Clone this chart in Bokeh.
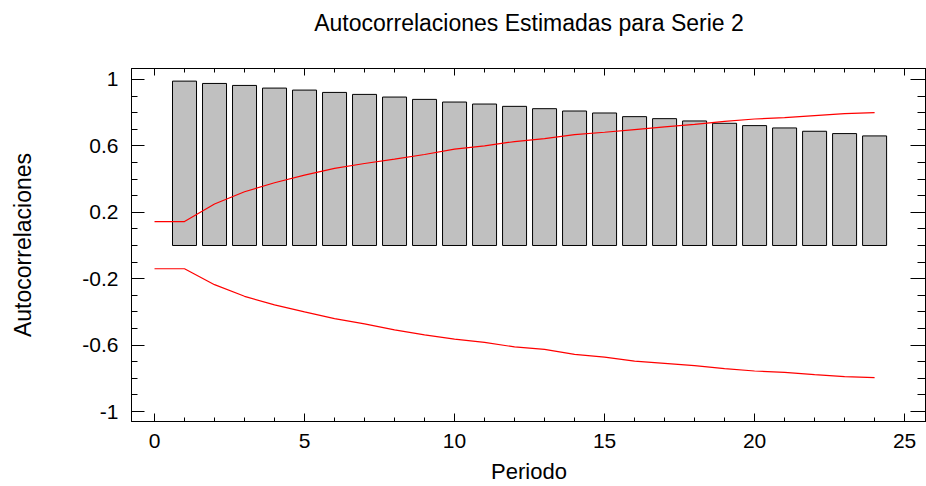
from bokeh.plotting import figure
from bokeh.models import (LinearAxis, Range1d, FixedTicker, SingleIntervalTicker,
                          ColumnDataSource, Title, CustomJSTickFormatter)
from bokeh.embed import file_html
from bokeh.resources import INLINE

# ---- data ----
lags = list(range(1, 25))
acf = [0.990, 0.976, 0.964, 0.948, 0.936, 0.922, 0.910, 0.894, 0.880, 0.864,
       0.852, 0.838, 0.824, 0.810, 0.798, 0.776, 0.764, 0.750, 0.736, 0.722,
       0.708, 0.688, 0.674, 0.660]

limit_lags = list(range(0, 25))
upper = [0.144, 0.144, 0.250, 0.324, 0.378, 0.424, 0.464, 0.494, 0.520, 0.548,
         0.580, 0.600, 0.626, 0.644, 0.668, 0.682, 0.698, 0.714, 0.730, 0.748,
         0.762, 0.770, 0.782, 0.794, 0.800]
lower = [-0.140, -0.140, -0.236, -0.306, -0.358, -0.400, -0.440, -0.472, -0.508,
         -0.538, -0.564, -0.584, -0.611, -0.626, -0.656, -0.672, -0.696, -0.710,
         -0.724, -0.742, -0.756, -0.764, -0.778, -0.790, -0.796]

y_ticks = [-1.0, -0.6, -0.2, 0.2, 0.6, 1.0]
y_tick_labels = ["-1", "-0.6", "-0.2", "0.2", "0.6", "1"]
y_minor = [-1.0, -0.9, -0.8, -0.7, -0.6, -0.5, -0.4, -0.3, -0.2, -0.1, 0.0,
           0.1, 0.2, 0.3, 0.4, 0.5, 0.6, 0.7, 0.8, 0.9, 1.0]

title = "Autocorrelaciones Estimadas para Serie 2"
x_label = "Periodo"
y_label = "Autocorrelaciones"

FONT = "Liberation Sans"

p = figure(width=926, height=486, output_backend="svg", toolbar_location=None,
           x_range=Range1d(-0.767, 25.73), y_range=Range1d(-1.06, 1.066),
           x_axis_label=x_label, y_axis_label=y_label,
           min_border_left=131, min_border_right=0, min_border_top=68,
           min_border_bottom=64)
p.title_location = None

p.xgrid.visible = False
p.ygrid.visible = False
p.outline_line_color = "black"
p.outline_line_alpha = 1.0
p.background_fill_color = "white"
p.border_fill_color = "white"

bars = ColumnDataSource(dict(x=lags, top=acf))
p.vbar(x="x", top="top", bottom=0, width=0.8, source=bars,
       fill_color="#c0c0c0", line_color="black", line_width=1)

lim = ColumnDataSource(dict(x=limit_lags, up=upper, lo=lower))
p.line(x="x", y="up", source=lim, line_color="red", line_width=1.2)
p.line(x="x", y="lo", source=lim, line_color="red", line_width=1.2)

xticker = SingleIntervalTicker(interval=5, num_minor_ticks=5)
yticker = FixedTicker(ticks=y_ticks, minor_ticks=y_minor)

xa = p.xaxis[0]
xa.ticker = xticker
xa.major_tick_in = 8
xa.major_tick_out = 0
xa.minor_tick_in = 4
xa.minor_tick_out = 0
xa.major_label_standoff = 12
xa.axis_label_standoff = 8
xa.major_label_text_font = FONT
xa.major_label_text_font_size = "21px"
xa.axis_label_text_font = FONT
xa.axis_label_text_font_size = "22px"
xa.axis_label_text_font_style = "normal"

ya = p.yaxis[0]
ya.ticker = yticker
ya.major_label_overrides = {t: l for t, l in zip(y_ticks, y_tick_labels)}
ya.major_tick_in = 13
ya.major_tick_out = 0
ya.minor_tick_in = 6
ya.minor_tick_out = 0
ya.major_label_standoff = 13
ya.axis_label_standoff = 43
ya.major_label_text_font = FONT
ya.major_label_text_font_size = "21px"
ya.axis_label_text_font = FONT
ya.axis_label_text_font_size = "23px"
ya.axis_label_text_font_style = "normal"

for ax in (xa, ya):
    ax.axis_line_color = "black"
    ax.major_tick_line_color = "black"
    ax.minor_tick_line_color = "black"
    ax.major_label_text_color = "black"
    ax.axis_label_text_color = "black"

blank = CustomJSTickFormatter(code="return ''")

top_axis = LinearAxis(ticker=SingleIntervalTicker(interval=5, num_minor_ticks=5),
                      formatter=blank, major_label_standoff=0,
                      major_tick_in=7, major_tick_out=0,
                      minor_tick_in=4, minor_tick_out=0,
                      axis_line_color="black", major_tick_line_color="black",
                      minor_tick_line_color="black")
p.add_layout(top_axis, "above")

right_axis = LinearAxis(ticker=FixedTicker(ticks=y_ticks, minor_ticks=y_minor),
                        formatter=blank, major_label_standoff=0,
                        major_tick_in=16, major_tick_out=0,
                        minor_tick_in=9, minor_tick_out=0,
                        axis_line_color="black", major_tick_line_color="black",
                        minor_tick_line_color="black")
p.add_layout(right_axis, "right")

# spacer between the top axis and the title, then the title itself
spacer = Title(text=" ", text_font_size="1px", standoff=25)
p.add_layout(spacer, "above")
main_title = Title(text=title, align="center", text_font=FONT,
                   text_font_size="23px", text_font_style="normal",
                   text_color="black", standoff=10)
p.add_layout(main_title, "above")

open("out.html", "w").write(file_html(p, INLINE))
